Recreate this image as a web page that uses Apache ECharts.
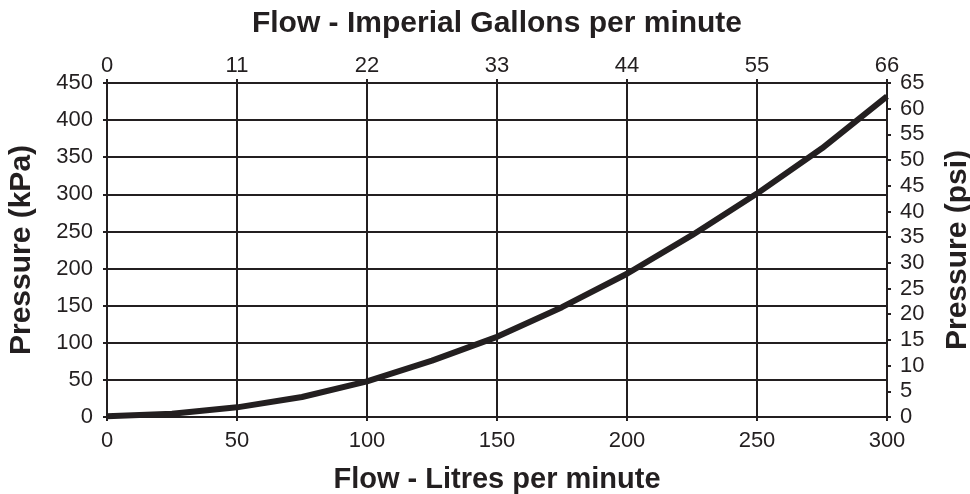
<!DOCTYPE html>
<html>
<head>
<meta charset="utf-8">
<script src="https://cdn.jsdelivr.net/npm/echarts@6/dist/echarts.min.js"></script>
<style>
  html, body { margin: 0; padding: 0; background: #fff; }
  #chart { width: 970px; height: 494px; }
</style>
</head>
<body>
<div id="chart"></div>
<script>
// flow in litres per minute vs pressure in kPa
const flowLpm = [0, 25, 50, 75, 100, 125, 150, 175, 200, 225, 250, 275, 300];
const pressureKpa = [1, 4.5, 13, 27, 48, 76, 108, 148, 193, 245, 301, 362, 432];

const ink = "#231f20";
const font = "Liberation Sans, Arial, sans-serif";

const chart = echarts.init(document.getElementById("chart"));

const axisBase = {
  axisLine: { show: true, onZero: false, lineStyle: { color: ink, width: 2 } },
  axisTick: { show: true, length: 4, lineStyle: { color: ink, width: 2 } },
  axisLabel: { color: ink, fontSize: 22, fontFamily: font },
  nameLocation: "middle",
  nameTextStyle: { color: ink, fontSize: 30, fontWeight: "bold", fontFamily: font },
};

chart.setOption({
  animation: false,
  // keep the plot area fixed, names may sit right at the edge
  grid: { left: 107, right: 83, top: 83, bottom: 77, containLabel: false, outerBoundsMode: "none" },
  xAxis: [
    {
      ...axisBase,
      type: "value",
      position: "bottom",
      min: 0,
      max: 300,
      interval: 50,
      name: "Flow - Litres per minute",
      nameGap: 48,
      nameTextStyle: { ...axisBase.nameTextStyle, fontSize: 29 },
      axisLabel: { ...axisBase.axisLabel, margin: 13 },
      splitLine: { show: true, lineStyle: { color: ink, width: 2 } },
    },
    {
      ...axisBase,
      type: "value",
      position: "top",
      min: 0,
      max: 66,
      interval: 11,
      name: "Flow - Imperial Gallons per minute",
      nameGap: 44,
      axisLabel: { ...axisBase.axisLabel, margin: 6 },
      splitLine: { show: false },
    },
  ],
  yAxis: [
    {
      ...axisBase,
      type: "value",
      position: "left",
      min: 0,
      max: 450,
      interval: 50,
      name: "Pressure (kPa)",
      nameGap: 70,
      axisLabel: { ...axisBase.axisLabel, margin: 14 },
      splitLine: { show: true, lineStyle: { color: ink, width: 2 } },
    },
    {
      ...axisBase,
      type: "value",
      position: "right",
      min: 0,
      max: 65,
      interval: 5,
      name: "Pressure (psi)",
      nameGap: 56,
      axisLabel: { ...axisBase.axisLabel, margin: 13 },
      splitLine: { show: false },
    },
  ],
  series: [
    {
      type: "line",
      xAxisIndex: 0,
      yAxisIndex: 0,
      data: flowLpm.map((f, i) => [f, pressureKpa[i]]),
      showSymbol: false,
      lineStyle: { color: ink, width: 6 },
      z: 5,
    },
  ],
});
</script>
</body>
</html>
